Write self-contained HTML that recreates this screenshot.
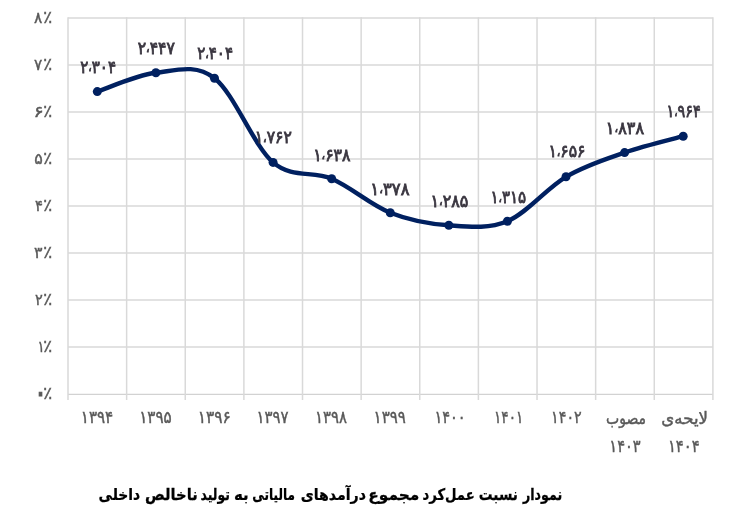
<!DOCTYPE html>
<html lang="fa">
<head>
<meta charset="utf-8">
<title>نمودار نسبت عمل‌کرد مجموع درآمدهای مالیاتی به تولید ناخالص داخلی</title>
<style>
html,body{margin:0;padding:0;background:#fff;}
body{width:744px;height:515px;overflow:hidden;}
svg{display:block;will-change:transform;}
text{font-family:"Liberation Sans","DejaVu Sans",sans-serif;text-anchor:middle;}
.grid line{stroke:#d9d9d9;stroke-width:1.5;}
.grid line.axis{stroke:#d2d2d2;stroke-width:1.2;}
.yl text{font-size:16.5px;fill:#595959;stroke:#595959;stroke-width:0.45px;}
.xl text{font-size:17px;fill:#595959;stroke:#595959;stroke-width:0.45px;}
.dl text{font-size:17px;fill:#3a3640;stroke:#3a3640;stroke-width:0.8px;}
.tt text{font-size:16px;fill:#000000;font-weight:bold;stroke:#000;stroke-width:0.25px;}
.dl .sep{font-size:12px;}
</style>
</head>
<body>
<svg width="744" height="515" viewBox="0 0 744 515">
<rect x="0" y="0" width="744" height="515" fill="#ffffff"/>
<g class="grid">
<line x1="68.00" y1="18.00" x2="712.90" y2="18.00"/>
<line x1="68.00" y1="65.00" x2="712.90" y2="65.00"/>
<line x1="68.00" y1="112.00" x2="712.90" y2="112.00"/>
<line x1="68.00" y1="159.00" x2="712.90" y2="159.00"/>
<line x1="68.00" y1="206.00" x2="712.90" y2="206.00"/>
<line x1="68.00" y1="253.00" x2="712.90" y2="253.00"/>
<line x1="68.00" y1="300.00" x2="712.90" y2="300.00"/>
<line x1="68.00" y1="347.00" x2="712.90" y2="347.00"/>
<line class="axis" x1="68.00" y1="394.30" x2="712.90" y2="394.30"/>
<line x1="68.00" y1="17.25" x2="68.00" y2="400.00"/>
<line x1="126.63" y1="17.25" x2="126.63" y2="400.00"/>
<line x1="185.25" y1="17.25" x2="185.25" y2="400.00"/>
<line x1="243.88" y1="17.25" x2="243.88" y2="400.00"/>
<line x1="302.51" y1="17.25" x2="302.51" y2="400.00"/>
<line x1="361.14" y1="17.25" x2="361.14" y2="400.00"/>
<line x1="419.76" y1="17.25" x2="419.76" y2="400.00"/>
<line x1="478.39" y1="17.25" x2="478.39" y2="400.00"/>
<line x1="537.02" y1="17.25" x2="537.02" y2="400.00"/>
<line x1="595.65" y1="17.25" x2="595.65" y2="400.00"/>
<line x1="654.27" y1="17.25" x2="654.27" y2="400.00"/>
<line x1="712.90" y1="17.25" x2="712.90" y2="400.00"/>
</g>
<g class="yl">
<text transform="translate(38.25 22.55) scale(0.9353 0.9511)">۸</text>
<text transform="translate(47.72 22.55) scale(1.0056 1.0161)">٪</text>
<text transform="translate(38.25 69.55) scale(0.9353 0.9511)">۷</text>
<text transform="translate(47.72 69.55) scale(1.0056 1.0161)">٪</text>
<text transform="translate(38.68 116.55) scale(1.1512 0.9532)">۶</text>
<text transform="translate(47.72 116.55) scale(1.0056 1.0161)">٪</text>
<text transform="translate(38.50 163.55) scale(0.9632 0.9511)">۵</text>
<text transform="translate(47.72 163.55) scale(1.0056 1.0161)">٪</text>
<text transform="translate(38.93 210.55) scale(0.8951 0.9305)">۴</text>
<text transform="translate(47.72 210.55) scale(1.0056 1.0161)">٪</text>
<text transform="translate(38.18 257.55) scale(0.9591 0.9511)">۳</text>
<text transform="translate(47.72 257.55) scale(1.0056 1.0161)">٪</text>
<text transform="translate(38.93 304.55) scale(0.8790 0.9511)">۲</text>
<text transform="translate(47.72 304.55) scale(1.0056 1.0161)">٪</text>
<text transform="translate(41.12 351.55) scale(0.8048 0.9511)">۱</text>
<text transform="translate(47.72 351.55) scale(1.0056 1.0161)">٪</text>
<text transform="translate(40.50 402.80) scale(1.6403 1.9400)">۰</text>
<text transform="translate(47.72 398.55) scale(1.0056 1.0161)">٪</text>
</g>
<g class="xl">
<text transform="translate(97.00 423.45) scale(0.8887 1.0000)">۱۳۹۴</text>
<text transform="translate(155.46 423.45) scale(0.8931 1.0000)">۱۳۹۵</text>
<text transform="translate(214.30 423.45) scale(0.9059 1.0000)">۱۳۹۶</text>
<text transform="translate(272.39 423.45) scale(0.8767 1.0000)">۱۳۹۷</text>
<text transform="translate(330.98 423.45) scale(0.8777 1.0000)">۱۳۹۸</text>
<text transform="translate(389.70 423.45) scale(0.8839 1.0000)">۱۳۹۹</text>
<text transform="translate(450.05 423.45) scale(0.8562 1.0000)">۱۴۰۰</text>
<text transform="translate(508.67 423.45) scale(0.8005 1.0000)">۱۴۰۱</text>
<text transform="translate(566.41 423.45) scale(0.8385 1.0000)">۱۴۰۲</text>
<text transform="translate(626.03 424.00) scale(0.8235 1.0000)">مصوب</text>
<text transform="translate(684.67 424.00) scale(0.9754 1.0000)">لایحه‌ی</text>
<text transform="translate(625.00 451.75) scale(0.8579 1.0000)">۱۴۰۳</text>
<text transform="translate(683.80 451.75) scale(0.8687 1.0000)">۱۴۰۴</text>
</g>
<path d="M97.30 91.60 C107.06 88.47 136.36 75.03 155.89 72.80 C175.42 70.57 194.95 63.27 214.48 78.20 C234.01 93.13 253.54 145.65 273.07 162.40 C292.60 179.15 312.13 170.32 331.66 178.70 C351.19 187.08 370.72 204.93 390.25 212.70 C409.78 220.47 429.31 223.88 448.84 225.30 C468.37 226.72 487.90 229.28 507.43 221.20 C526.96 213.12 546.49 188.23 566.02 176.80 C585.55 165.37 605.08 159.37 624.61 152.60 C644.14 145.83 673.44 138.93 683.20 136.20" fill="none" stroke="#002060" stroke-width="4.4" stroke-linecap="round" stroke-linejoin="round"/>
<g fill="#002060">
<circle cx="97.30" cy="91.60" r="4.5"/>
<circle cx="155.89" cy="72.80" r="4.5"/>
<circle cx="214.48" cy="78.20" r="4.5"/>
<circle cx="273.07" cy="162.40" r="4.5"/>
<circle cx="331.66" cy="178.70" r="4.5"/>
<circle cx="390.25" cy="212.70" r="4.5"/>
<circle cx="448.84" cy="225.30" r="4.5"/>
<circle cx="507.43" cy="221.20" r="4.5"/>
<circle cx="566.02" cy="176.80" r="4.5"/>
<circle cx="624.61" cy="152.60" r="4.5"/>
<circle cx="683.20" cy="136.20" r="4.5"/>
</g>
<g class="dl">
<text transform="translate(98.12 72.75) scale(0.8871 1.0000)">۲<tspan class="sep" dy="-1.5">،</tspan><tspan dy="1.5">۳۰۴</tspan></text>
<text transform="translate(156.28 53.65) scale(0.9231 1.0000)">۲<tspan class="sep" dy="-1.5">،</tspan><tspan dy="1.5">۴۴۷</tspan></text>
<text transform="translate(215.12 59.25) scale(0.8871 1.0000)">۲<tspan class="sep" dy="-1.5">،</tspan><tspan dy="1.5">۴۰۴</tspan></text>
<text transform="translate(273.27 143.45) scale(0.9199 1.0000)">۱<tspan class="sep" dy="-1.5">،</tspan><tspan dy="1.5">۷۶۲</tspan></text>
<text transform="translate(331.82 160.55) scale(0.9259 1.0000)">۱<tspan class="sep" dy="-1.5">،</tspan><tspan dy="1.5">۶۳۸</tspan></text>
<text transform="translate(389.93 194.85) scale(0.9700 1.0000)">۱<tspan class="sep" dy="-1.5">،</tspan><tspan dy="1.5">۳۷۸</tspan></text>
<text transform="translate(449.40 206.50) scale(0.9365 1.0000)">۱<tspan class="sep" dy="-1.5">،</tspan><tspan dy="1.5">۲۸۵</tspan></text>
<text transform="translate(508.30 203.10) scale(0.8870 1.0000)">۱<tspan class="sep" dy="-1.5">،</tspan><tspan dy="1.5">۳۱۵</tspan></text>
<text transform="translate(566.95 157.20) scale(0.9178 1.0000)">۱<tspan class="sep" dy="-1.5">،</tspan><tspan dy="1.5">۶۵۶</tspan></text>
<text transform="translate(624.92 133.85) scale(0.9458 1.0000)">۱<tspan class="sep" dy="-1.5">،</tspan><tspan dy="1.5">۸۳۸</tspan></text>
<text transform="translate(683.52 117.35) scale(0.8455 1.0000)">۱<tspan class="sep" dy="-1.5">،</tspan><tspan dy="1.5">۹۶۴</tspan></text>
</g>
<g class="tt">
<text transform="translate(542.65 499.50) scale(0.7926 1.0000)">نمودار</text>
<text transform="translate(498.38 499.50) scale(0.8564 1.0000)">نسبت</text>
<text transform="translate(448.55 499.50) scale(0.8251 1.0000)">عمل‌کرد</text>
<text transform="translate(393.82 499.50) scale(0.9636 1.0000)">مجموع</text>
<text transform="translate(333.32 499.50) scale(0.8850 1.0000)">درآمدهای</text>
<text transform="translate(273.60 499.50) scale(0.7521 1.0000)">مالیاتی</text>
<text transform="translate(241.35 499.50) scale(0.9382 1.0000)">به</text>
<text transform="translate(215.25 499.50) scale(0.7765 1.0000)">تولید</text>
<text transform="translate(171.38 499.50) scale(0.9196 1.0000)">ناخالص</text>
<text transform="translate(119.42 499.50) scale(0.8701 1.0000)">داخلی</text>
</g>
</svg>
</body>
</html>
